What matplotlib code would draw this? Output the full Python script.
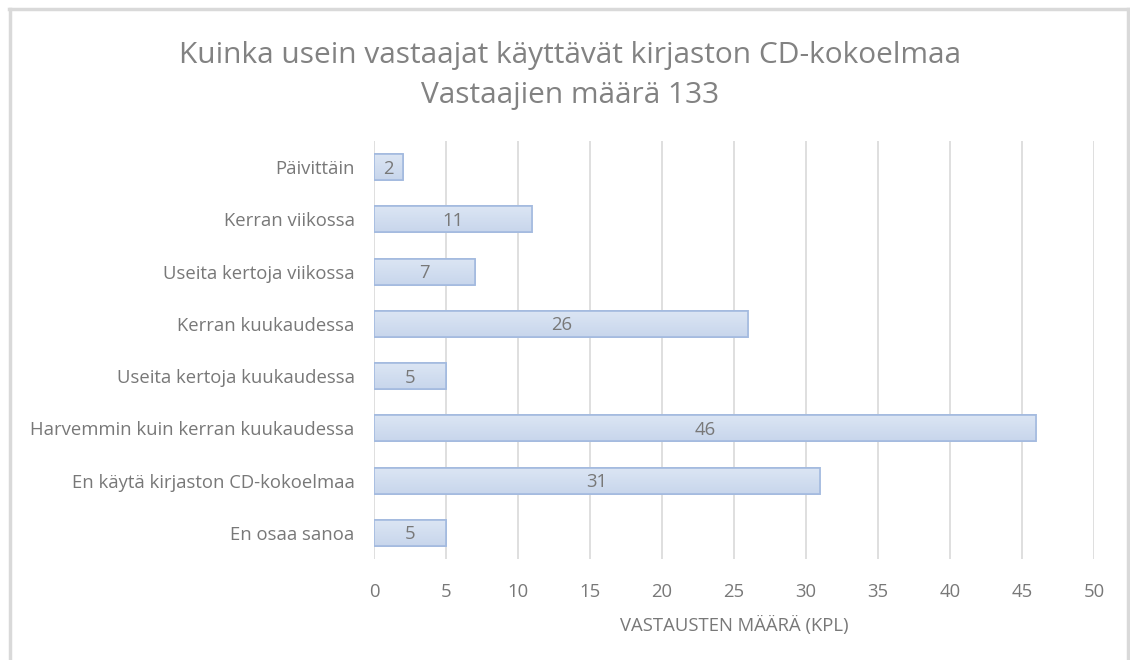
import matplotlib
matplotlib.use("Agg")
import matplotlib.pyplot as plt
import numpy as np
from matplotlib.patches import Rectangle
from matplotlib.lines import Line2D
from matplotlib.colors import LinearSegmentedColormap

categories = ["Päivittäin", "Kerran viikossa", "Useita kertoja viikossa",
              "Kerran kuukaudessa", "Useita kertoja kuukaudessa",
              "Harvemmin kuin kerran kuukaudessa", "En käytä kirjaston CD-kokoelmaa",
              "En osaa sanoa"]
values = [2, 11, 7, 26, 5, 46, 31, 5]
xticks = [0, 5, 10, 15, 20, 25, 30, 35, 40, 45, 50]
title = "Kuinka usein vastaajat käyttävät kirjaston CD-kokoelmaa\nVastaajien määrä 133"
xlabel = "VASTAUSTEN MÄÄRÄ (KPL)"

plt.rcParams['font.family'] = ['Open Sans', 'DejaVu Sans']
txt = "#787878"
fs = 13.3

fig = plt.figure(figsize=(11.3, 6.6), dpi=100)
ax = fig.add_axes([374/1130, 1-559/660, 720/1130, 418/660])

y = np.arange(len(categories))
bh = 0.5
bars = ax.barh(y, values, height=bh, color="#d3dff1", edgecolor="#a3badf", linewidth=1.2, zorder=3)
grad = np.linspace(0, 1, 100).reshape(-1, 1)
cmap = LinearSegmentedColormap.from_list("g", ["#dce6f4", "#c8d6ec"])
for b in bars:
    x0, y0, w, h = b.get_x(), b.get_y(), b.get_width(), b.get_height()
    im = ax.imshow(grad, extent=[x0, x0 + w, y0 + h, y0], cmap=cmap, aspect='auto', zorder=3.5,
                   origin='upper')
    im.set_clip_path(b)
    r = Rectangle((x0, y0), w, h, fill=False, edgecolor="#a3badf", linewidth=1.2, zorder=4)
    ax.add_patch(r)
    ax.text(x0 + w / 2, y0 + h / 2 + 0.03, str(int(w)), ha='center', va='center', fontsize=fs,
            color=txt, zorder=5)

ax.set_xlim(0, 50)
ax.set_ylim(len(categories) - 0.5, -0.5)
ax.set_xticks(xticks)
ax.set_xticklabels([str(t) for t in xticks], fontsize=fs, color=txt)
ax.set_yticks(y)
ax.set_yticklabels(categories, fontsize=fs, color=txt)
ax.tick_params(axis='x', length=0, pad=17)
ax.tick_params(axis='y', length=0, pad=14)
ax.xaxis.grid(True, color="#d9d9d9", linewidth=1.2, zorder=0)
for s in ax.spines.values():
    s.set_visible(False)
ax.set_aspect('auto')
ax.set_xlabel(xlabel, fontsize=fs, color=txt, labelpad=11)

fig.text(570 / 1130, 1 - 75 / 660, title, ha='center', va='center',
         fontsize=21.5, color="#828282", linespacing=1.5)

# chart frame
fc = "#d9d9d9"
fig.add_artist(Line2D([9/1130, 1128/1130], [1-9/660, 1-9/660], color=fc, lw=2.5, transform=fig.transFigure))
fig.add_artist(Line2D([10/1130, 10/1130], [0, 1-9/660], color=fc, lw=2.5, transform=fig.transFigure))
fig.add_artist(Line2D([1128/1130, 1128/1130], [0, 1-9/660], color=fc, lw=2.5, transform=fig.transFigure))

fig.savefig("out.png", dpi=100)
